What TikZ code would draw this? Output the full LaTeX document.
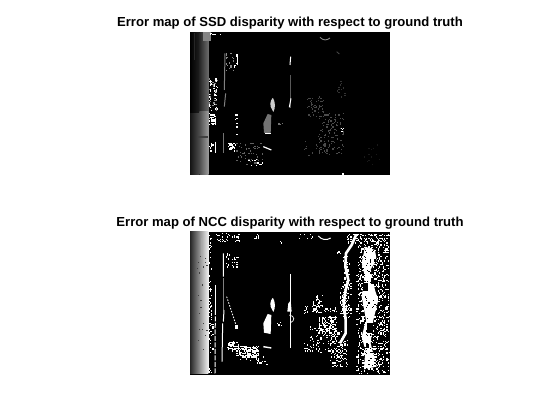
\documentclass[tikz,border=0pt]{standalone}
\usepackage{fontspec}
\setmainfont{Liberation Sans}
\newcommand\spk[6]{\foreach \i in {1,...,#5}{%
  \pgfmathsetmacro\xx{round((#1+rnd*(#3-#1))/3.6)*3.6}%
  \pgfmathsetmacro\yy{round((#2+rnd*(#4-#2))/3.6)*3.6}%
  \fill[#6] (\xx,\yy) rectangle ++(3.6,3.6);}}
\tikzset{
  titletext/.style={font=\bfseries\fontsize{13.1}{15}\selectfont,text=black,inner sep=0pt,anchor=base},
  zoomed/.style={x=0.3333pt,y=-0.3333pt},
  wh/.style={draw=white,line width=#1pt,line join=round}
}
\begin{document}
\begin{tikzpicture}[x=1pt,y=-1pt]
\useasboundingbox (0,0) rectangle (560,420);
\fill[white] (0,0) rectangle (560,420);
\node[titletext] (t1) at (290,27) {Error map of SSD disparity with respect to ground truth};
\node[titletext] (t2) at (290,226) {Error map of NCC disparity with respect to ground truth};
\fill[black] (190,32) rectangle (390,175);
\fill[black] (190,232) rectangle (390,375);
% ---------- upper map
\begin{scope}[shift={(180,10)},zoomed]
\pgfmathsetseed{11}
\fill[left color=black,right color=black!88] (30,67) rectangle (58,310);
\fill[left color=black!85,right color=black!58] (58,67) rectangle (85,310);
\fill[black!48] (68,67) rectangle (94,92);
\fill[left color=black!92,right color=black!70] (30,310) rectangle (58,495);
\fill[left color=black!70,right color=black!38] (58,305) rectangle (86,495);
\fill[black!75] (55,378) rectangle (85,384);
\fill[black!85] (42,70) rectangle (46,150);
% left fringe
\spk{86}{205}{112}{300}{70}{white}
\spk{86}{205}{112}{300}{35}{black!45}
\spk{86}{310}{105}{345}{35}{white}
\spk{86}{400}{96}{430}{16}{white}
\spk{90}{68}{120}{74}{9}{white}
\fill[black] (94,225) rectangle (98,285);
\draw[wh=0.8] (107,330) -- (107,345) (107,395) -- (107,430);
\draw[black!55,line width=1pt] (130,370) -- (130,430);
\draw[black!50,line width=1pt] (135,130) -- (133,240) (137,250) -- (133,290);
\spk{135}{130}{160}{180}{22}{black!45}
\draw[wh=1.2] (172,132) -- (172,165);
\spk{160}{130}{172}{170}{6}{white}
\spk{160}{300}{170}{370}{7}{white}
% centre
\fill[black!20] (272,290) .. controls (268,278) and (277,262) .. (279,264) .. controls (286,275) and (287,295) .. (280,306) -- cycle;
\fill[black!55] (252,368) -- (250,340) -- (263,312) -- (274,315) -- (272,372) -- cycle;
\draw[white,line width=0.8pt] (255,371) -- (272,371);
\draw[black!65,line width=1pt] (332,195) -- (332,295);
\draw[wh=1] (333,265) -- (328,292) (332,140) -- (330,165);
\spk{145}{398}{165}{420}{34}{white}
\spk{168}{398}{250}{460}{55}{black!62}
\spk{205}{445}{250}{465}{12}{white}
\draw[wh=1.2] (250,410) -- (274,420);
\spk{295}{335}{305}{348}{4}{black!55}
% right cluster
\spk{380}{260}{430}{320}{50}{black!72}
\spk{415}{310}{492}{430}{130}{black!70}
\spk{370}{390}{450}{440}{25}{black!72}
\spk{470}{210}{495}{260}{14}{black!80}
\spk{480}{345}{492}{375}{5}{white}
\spk{540}{400}{600}{470}{14}{black!90}
\draw[black!45,line width=0.9pt] (420,82) .. controls (430,92) and (440,92) .. (450,84);
\draw[black!70,line width=0.8pt] (470,125) -- (478,132);
\fill[white] (487,490) rectangle (493,495);
\end{scope}
% ---------- lower map
\begin{scope}[shift={(180,210)},zoomed]
\pgfmathsetseed{7}
\fill[left color=black!85,right color=black!5] (30,66) rectangle (85,490);
\spk{50}{100}{80}{430}{20}{black!75}
\draw[black!35,line width=1pt] (66,85) -- (66,150);
\spk{85}{70}{95}{300}{40}{white}
\spk{85}{300}{100}{430}{28}{white}
\spk{85}{470}{95}{490}{6}{white}
\draw[wh=1] (107,225) -- (107,300);
\draw[wh=1,dash pattern=on 5pt off 1.5pt] (106,300) -- (105,490);
\draw[wh=1] (130,130) -- (130,200) (128,340) -- (126,455);
\draw[black!50,line width=1pt] (132,205) -- (132,300);
\draw[wh=1] (132,300) -- (130,335);
\draw[wh=0.9,dash pattern=on 1.5pt off 1.5pt] (140,260) -- (168,345);
\fill[white] (164,346) rectangle (173,358);
\spk{135}{130}{175}{170}{32}{white}
\spk{106}{68}{180}{95}{36}{white}
\spk{215}{72}{240}{85}{8}{white}
\spk{285}{92}{305}{98}{3}{white}
% centre
\fill[white] (272,290) .. controls (268,278) and (277,262) .. (279,264) .. controls (286,275) and (287,295) .. (280,306) -- cycle;
\fill[white] (252,368) -- (250,340) -- (263,312) -- (274,315) -- (272,372) -- cycle;
\draw[wh=0.9] (332,192) -- (332,415);
\fill[white] (322,305) -- (325,280) -- (332,272) -- (335,305) -- cycle;
\draw[white,line width=0.7pt] (328,315) .. controls (345,318) and (345,332) .. (332,338);
\spk{290}{335}{305}{348}{5}{white}
\spk{140}{393}{175}{420}{60}{white}
\spk{170}{405}{235}{440}{130}{white}
\spk{220}{440}{260}{460}{14}{white}
\spk{180}{425}{230}{450}{30}{white}
\draw[wh=1.4] (250,410) -- (274,414);
\spk{355}{70}{400}{85}{8}{white}
\draw[wh=1] (415,78) .. controls (425,90) and (440,92) .. (452,84);
\spk{470}{120}{482}{132}{7}{white}
% right cluster
\spk{395}{255}{425}{310}{60}{white}
\spk{372}{285}{382}{310}{12}{white}
\spk{425}{290}{470}{305}{14}{white}
\spk{415}{315}{470}{365}{130}{white}
\spk{385}{350}{470}{400}{60}{white}
\spk{370}{395}{460}{425}{36}{white}
\spk{450}{360}{500}{470}{120}{white}
% vein and mass
\draw[wh=2.6] (528,75) -- (515,105) -- (498,130) -- (496,170) -- (505,210) -- (497,240) -- (491,280) -- (497,330) -- (497,370) -- (480,400);
\spk{478}{215}{512}{320}{110}{white}
\spk{488}{120}{508}{215}{30}{white}
\spk{500}{70}{630}{100}{120}{white}
\fill[white] (555,110) -- (585,120) -- (590,150) -- (572,178) -- (585,240) -- (595,270) -- (580,330) -- (572,400) -- (590,470) -- (552,478) -- (556,420) -- (545,380) -- (558,330) -- (545,260) -- (555,200) -- (545,160) -- cycle;
\spk{530}{100}{625}{200}{230}{white}
\spk{530}{200}{625}{330}{300}{white}
\spk{530}{330}{625}{490}{330}{white}
\fill[black] (548,218) rectangle (563,243);
\fill[black] (572,205) rectangle (582,222);
\fill[black] (562,340) rectangle (580,370);
\fill[black] (558,402) rectangle (568,414);
\spk{546}{210}{570}{250}{10}{black}
\spk{555}{332}{590}{378}{16}{black}
\spk{530}{110}{590}{190}{40}{black}
\spk{535}{400}{600}{480}{40}{black}
\spk{530}{250}{600}{330}{30}{black}
\end{scope}
\end{tikzpicture}
\end{document}
